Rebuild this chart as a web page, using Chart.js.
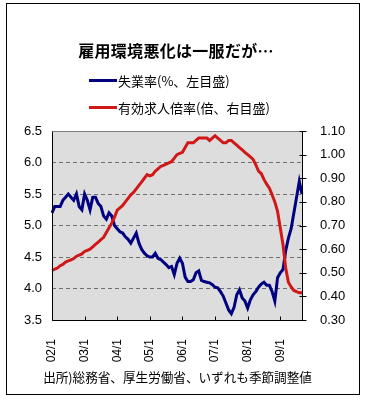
<!DOCTYPE html>
<html><head><meta charset="utf-8">
<script src="https://cdn.jsdelivr.net/npm/chart.js@4.4.1/dist/chart.umd.min.js"></script>
<style>
html,body{margin:0;padding:0;background:#fff;width:366px;height:402px;overflow:hidden;font-family:"Noto Sans CJK JP",sans-serif;color:#000;}
#frame{position:absolute;left:6px;top:3px;width:354px;height:392px;box-sizing:border-box;border:1px solid #000;}
canvas{position:absolute;left:0;top:0;}
#title{position:absolute;left:0;width:352px;top:39px;text-align:center;font-size:16px;font-weight:bold;line-height:22px;letter-spacing:0.3px}
.leg{position:absolute;left:89px;height:16px;display:flex;align-items:center;font-size:13px;white-space:nowrap}
.leg i{display:inline-block;width:28px;height:3px;margin-right:1px}
#foot{position:absolute;left:0;width:355px;top:368px;text-align:center;font-size:12.6px;line-height:18px;white-space:nowrap}
</style></head>
<body>
<div id="frame"></div>
<canvas id="c" width="366" height="402"></canvas>
<div id="title">雇用環境悪化は一服だが…</div>
<div class="leg" style="top:72px"><i style="background:#000080"></i>失業率(%、左目盛)</div>
<div class="leg" style="top:99px"><i style="background:#d01818"></i>有効求人倍率(倍、右目盛)</div>
<div id="foot">出所)総務省、厚生労働省、いずれも季節調整値</div>
<script>
// Tick labels shown on the category axis
const yearTicks = ["02/1","03/1","04/1","05/1","06/1","07/1","08/1","09/1"];
// Monthly categories 2002/1 .. 2009/9
const months = [];
for (let y = 2; y <= 9; y++) {
  for (let m = 1; m <= 12; m++) {
    if (y === 9 && m > 9) break;
    months.push(String(y).padStart(2, "0") + "/" + m);
  }
}
// 失業率 (%, left axis)
const unemployment = [
  5.2, 5.3, 5.3, 5.3, 5.4, 5.45, 5.5, 5.45, 5.4, 5.5, 5.3, 5.25,
  5.5, 5.4, 5.25, 5.45, 5.45, 5.35, 5.3, 5.15, 5.1, 5.2, 5.15, 5.0,
  4.95, 4.9, 4.88, 4.82, 4.78, 4.72, 4.8, 4.88, 4.72, 4.62, 4.56, 4.52,
  4.5, 4.5, 4.56, 4.48, 4.46, 4.42, 4.38, 4.33, 4.35, 4.22, 4.4, 4.48,
  4.4, 4.18, 4.11, 4.11, 4.14, 4.25, 4.28, 4.13, 4.11, 4.1, 4.09, 4.06,
  4.02, 4.01, 3.95, 3.88, 3.77, 3.66, 3.6, 3.7, 3.9, 3.98, 3.85, 3.8,
  3.69, 3.82, 3.9, 3.95, 4.02, 4.07, 4.1, 4.05, 4.05, 3.95, 3.8, 4.17,
  4.25, 4.3, 4.6, 4.8, 4.95, 5.2, 5.45, 5.7, 5.5
];
// 有効求人倍率 (倍, right axis)
const jobRatio = [
  0.51, 0.515, 0.52, 0.53, 0.535, 0.545, 0.55, 0.555, 0.56, 0.57, 0.575, 0.58,
  0.59, 0.595, 0.60, 0.61, 0.62, 0.63, 0.64, 0.65, 0.67, 0.69, 0.71, 0.735,
  0.765, 0.775, 0.785, 0.80, 0.815, 0.83, 0.84, 0.855, 0.87, 0.885, 0.90, 0.915,
  0.91, 0.915, 0.93, 0.94, 0.95, 0.955, 0.96, 0.965, 0.97, 0.985, 1.00, 1.005,
  1.01, 1.03, 1.05, 1.05, 1.05, 1.06, 1.07, 1.07, 1.07, 1.07, 1.06, 1.07,
  1.08, 1.07, 1.06, 1.05, 1.05, 1.06, 1.06, 1.05, 1.04, 1.03, 1.02, 1.01,
  1.00, 0.99, 0.98, 0.957, 0.93, 0.92, 0.895, 0.875, 0.858, 0.83, 0.80, 0.76,
  0.69, 0.62, 0.52, 0.46, 0.44, 0.425, 0.42, 0.415, 0.415
];
const leftTicks = [3.5, 4.0, 4.5, 5.0, 5.5, 6.0, 6.5];
const rightTicks = [0.3, 0.4, 0.5, 0.6, 0.7, 0.8, 0.9, 1.0, 1.1];

const framePlugin = {
  id: "frame",
  beforeDraw(chart) {
    const { ctx, chartArea: a } = chart;
    ctx.save();
    ctx.fillStyle = "#dddddd";
    ctx.fillRect(a.left, a.top, a.right - a.left, a.bottom - a.top);
    ctx.restore();
  },
  afterDraw(chart) {
    const { ctx, chartArea: a } = chart;
    const xs = chart.scales.x, yr = chart.scales.y1;
    const L = Math.round(a.left) + 0.5, R = Math.round(a.right) + 0.5;
    const T = Math.round(a.top) + 0.5, B = Math.round(a.bottom) + 0.5;
    ctx.save();
    ctx.lineWidth = 1;
    ctx.strokeStyle = "#808080";
    ctx.beginPath(); ctx.moveTo(L, T); ctx.lineTo(R, T); ctx.stroke();
    ctx.strokeStyle = "#000";
    ctx.beginPath();
    ctx.moveTo(L, T); ctx.lineTo(L, B); ctx.lineTo(R, B); ctx.lineTo(R, T);
    ctx.stroke();
    ctx.beginPath();
    months.forEach((m, i) => {
      if (yearTicks.includes(m)) {
        const x = Math.round(xs.getPixelForValue(i)) + 0.5;
        ctx.moveTo(x, B); ctx.lineTo(x, B - 4);
      }
    });
    rightTicks.forEach(v => {
      const y = Math.round(yr.getPixelForValue(v)) + 0.5;
      ctx.moveTo(R - 3, y); ctx.lineTo(R + 4, y);
    });
    ctx.stroke();
    ctx.restore();
  }
};

Chart.defaults.font.family = "'Liberation Sans', Arial, sans-serif";
Chart.defaults.color = "#000";

new Chart(document.getElementById("c"), {
  type: "line",
  data: {
    labels: months,
    datasets: [
      { label: "失業率(%、左目盛)", data: unemployment, yAxisID: "y", borderColor: "#000080",
        borderWidth: 3, pointRadius: 0, tension: 0, fill: false, order: 1 },
      { label: "有効求人倍率(倍、右目盛)", data: jobRatio, yAxisID: "y1", borderColor: "#d01818",
        borderWidth: 3, pointRadius: 0, tension: 0, fill: false, order: 0 }
    ]
  },
  options: {
    responsive: false,
    devicePixelRatio: 1,
    animation: false,
    events: [],
    layout: { padding: { top: 131, left: 0, right: 0, bottom: 0 } },
    plugins: { legend: { display: false }, title: { display: false }, tooltip: { enabled: false } },
    scales: {
      x: {
        type: "category", offset: false,
        grid: { display: false }, border: { display: false },
        ticks: {
          autoSkip: false, minRotation: 90, maxRotation: 90, padding: 11,
          font: { size: 12 },
          callback: function (v) { const l = this.getLabelForValue(v); return yearTicks.includes(l) ? l : ""; }
        },
        afterFit: s => { s.height = 82; }
      },
      y: {
        position: "left", min: leftTicks[0], max: leftTicks[leftTicks.length - 1],
        ticks: { stepSize: 0.5, padding: 10, font: { size: 13 }, callback: v => Number(v).toFixed(1) },
        grid: {
          drawTicks: false, lineWidth: 1,
          color: c => (c.tick && c.tick.value > 3.6 && c.tick.value < 6.4) ? "#707070" : "rgba(0,0,0,0)"
        },
        border: { display: false, dash: [4, 3] },
        afterFit: s => { s.width = 52; }
      },
      y1: {
        position: "right", min: rightTicks[0], max: rightTicks[rightTicks.length - 1],
        ticks: { stepSize: 0.1, padding: 10, font: { size: 13 }, callback: v => Number(v).toFixed(2) },
        grid: { display: false }, border: { display: false },
        afterFit: s => { s.width = 64; }
      }
    }
  },
  plugins: [framePlugin]
});
</script>
</body></html>
